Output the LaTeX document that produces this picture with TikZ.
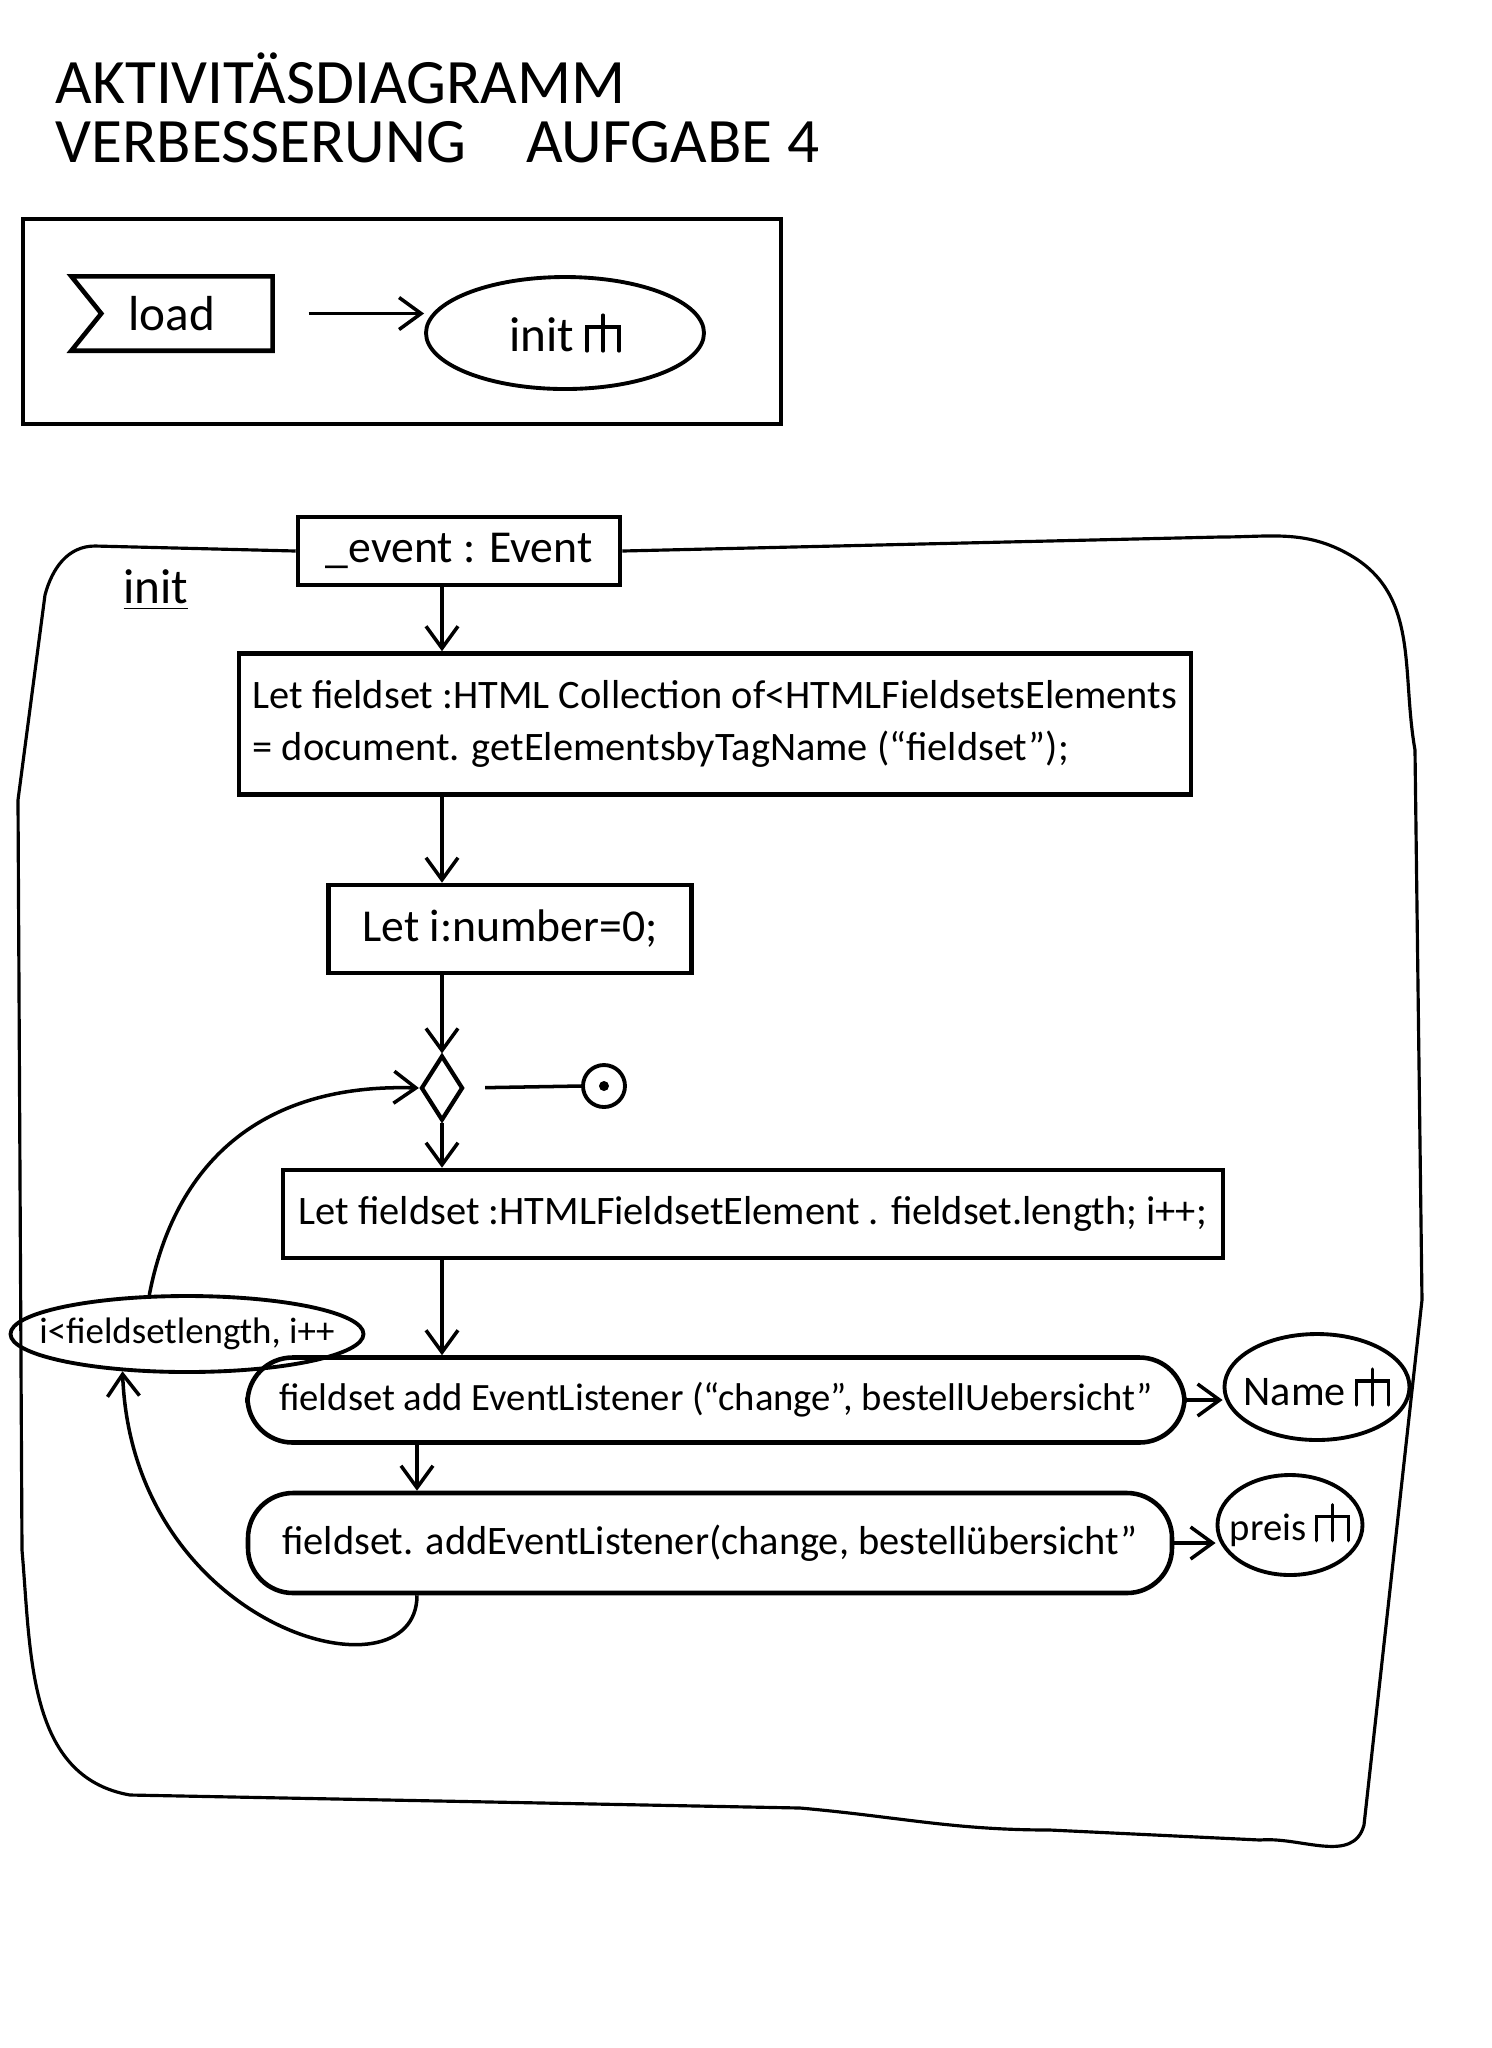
\documentclass[tikz,border=0pt]{standalone}
\usepackage{fontspec}
\setmainfont{Carlito}
\usetikzlibrary{shapes.geometric,arrows.meta,calc}
\newcommand{\rakeicon}{\tikz[baseline=0pt, line width=0.9pt, line cap=round]
  \draw (0,0) -- (0,0.24) -- (0.32,0.24) -- (0.32,0) (0.16,0) -- (0.16,0.36);}
\begin{document}
\begin{tikzpicture}[
    box/.style={draw, line width=1.3pt, inner sep=0pt},
    pill/.style={draw, line width=1.3pt, rounded corners=0.45cm, inner sep=0pt},
    oval/.style={draw, ellipse, line width=1.1pt, inner sep=0pt},
    flow/.style={line width=1pt, -{Straight Barb[length=2.2mm,width=3.2mm]}},
    region/.style={line width=0.9pt},
    heading/.style={anchor=west, inner sep=0pt, font=\fontsize{18}{21}\selectfont}
  ]
  \useasboundingbox (0,0) rectangle (14.91,-20.48);
  \node[heading] (title) at (0.55,-0.78) {AKTIVITÄSDIAGRAMM};
  \node[heading] (subtitle) at (0.55,-1.42) {VERBESSERUNG\hspace{0.6cm}AUFGABE 4};

  \draw[line width=1.3pt] (0.23,-2.19) rectangle (7.81,-4.24);
  \node[minimum width=2.0cm, minimum height=0.73cm, font=\fontsize{14}{16}\selectfont] (load) at (1.72,-3.135) {load};
  \draw[line width=1.3pt] (load.north west) -- (load.north east) -- (load.south east)
    -- (load.south west) -- ([xshift=3mm]load.west) -- cycle;
  \node[oval, minimum width=2.78cm, minimum height=1.12cm, font=\fontsize{14}{16}\selectfont] (initcall) at (5.65,-3.33) {init \rakeicon};
  \draw[flow, shorten <=3.6mm] (load.east) -- (load.east -| initcall.west);

  \node[box, minimum width=3.22cm, minimum height=0.68cm, font=\fontsize{13}{15}\selectfont] (event) at (4.59,-5.51) {\_event : Event};
  \draw[region] (event.west) -- (0.95,-5.46) to[out=180,in=75] (0.45,-5.95) -- (0.18,-8)
    -- (0.22,-15.5) to[out=-85,in=170] (1.3,-17.95) -- (8.0,-18.08) to[out=-5,in=180] (10.5,-18.3)
    -- (12.6,-18.4) to[out=5,in=-105] (13.64,-18.25) -- (14.22,-13) -- (14.15,-7.5)
    to[out=100,in=-30] (13.5,-5.55) to[out=150,in=0] (12.2,-5.37) -- (event.east);
  \node[font=\fontsize{14}{16}\selectfont] (initlabel) at (1.56,-5.90) {\underline{init}};

  \node[box, minimum width=9.52cm, minimum height=1.41cm, align=left, font=\fontsize{11.5}{15}\selectfont] (fields) at (7.15,-7.24)
    {Let fieldset :HTML Collection of<HTMLFieldsetsElements\\= document. getElementsbyTagName (``fieldset'');};
  \node[box, minimum width=3.63cm, minimum height=0.88cm, font=\fontsize{13}{15}\selectfont] (counter) at (5.10,-9.29) {Let i:number=0;};
  \node[draw, diamond, line width=1.2pt, inner sep=0pt, minimum width=0.42cm, minimum height=0.65cm] (merge) at (4.42,-10.88) {};
  \node[draw, circle, line width=1.1pt, minimum size=0.42cm, inner sep=0pt] (final) at (6.04,-10.86) {};
  \fill (final.center) circle (0.05);
  \node[box, minimum width=9.40cm, minimum height=0.88cm, font=\fontsize{11.5}{13}\selectfont] (loop) at (7.53,-12.14)
    {Let fieldset :HTMLFieldsetElement . fieldset.length; i++;};
  \node[pill, minimum width=9.37cm, minimum height=0.85cm, font=\fontsize{11}{13}\selectfont] (listen1) at (7.16,-14.00)
    {fieldset add EventListener (``change'', bestellUebersicht''};
  \node[pill, minimum width=9.24cm, minimum height=1.0cm, font=\fontsize{11.5}{13}\selectfont] (listen2) at (7.10,-15.43)
    {fieldset. addEventListener(change, bestellübersicht''};
  \node[oval, minimum width=1.85cm, minimum height=1.06cm, font=\fontsize{12}{14}\selectfont] (name) at (13.17,-13.87) {\makebox[0pt]{Name \rakeicon}};
  \node[oval, minimum width=1.45cm, minimum height=1.0cm, font=\fontsize{11}{13}\selectfont] (preis) at (12.90,-15.25) {\makebox[0pt]{preis \rakeicon}};
  \node[oval, minimum width=3.53cm, minimum height=0.76cm, font=\fontsize{10.5}{12}\selectfont] (cond) at (1.87,-13.34) {\makebox[0pt]{i<fieldsetlength, i++}};

  \draw[flow] (merge |- event.south) -- (merge |- fields.north);
  \draw[flow] (merge |- fields.south) -- (merge |- counter.north);
  \draw[flow] (merge |- counter.south) -- (merge.north);
  \draw[line width=1pt, shorten <=2mm] (merge.east) -- (final.west);
  \draw[flow] (merge.south) -- (merge |- loop.north);
  \draw[flow] (merge |- loop.south) -- (merge |- listen1.north);
  \draw[flow] ($(merge |- listen1.south)+(-0.25,0)$) -- ($(merge |- listen2.north)+(-0.25,0)$);
  \draw[flow] (listen1.east) -- (listen1.east -| name.west);
  \draw[flow] (listen2.east) -- (listen2.east -| preis.west);
  \draw[flow] (cond.134) .. controls +(0.25,1.3) and +(-1.6,0.05) .. (merge.west);
  \draw[flow] ($(merge |- listen2.south)+(-0.25,0)$) .. controls +(0,-1.1) and +(0.1,-2.6) .. (cond.210);
\end{tikzpicture}
\end{document}
